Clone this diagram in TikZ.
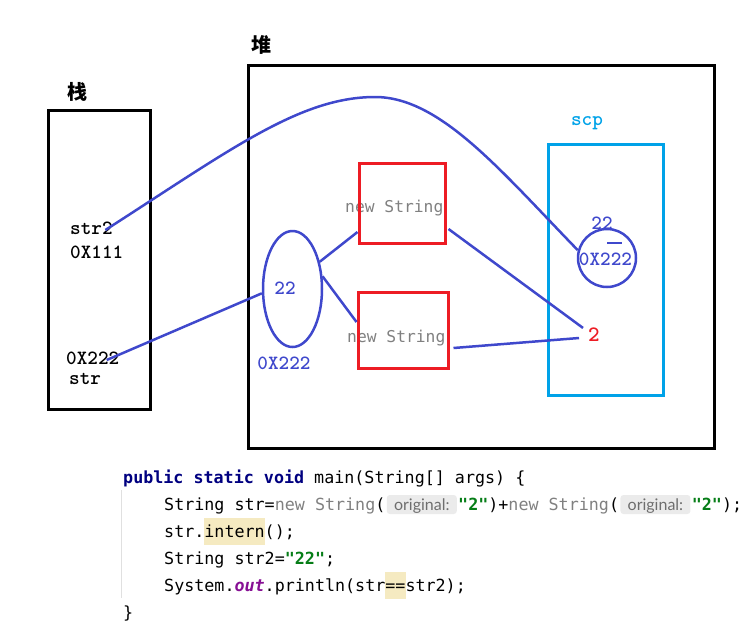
\documentclass[tikz,border=0pt]{standalone}
\usepackage{fontspec}
\setmonofont{DejaVu Sans Mono}
\newfontfamily\cjk{Noto Sans CJK SC}
\newfontfamily\addrfont{lmmonolt10-bold.otf}
\newfontfamily\hintfont{Lato}
\usetikzlibrary{shapes.geometric}
\definecolor{inkblue}{HTML}{3F48CC}
\definecolor{paintred}{HTML}{ED1C24}
\definecolor{scpcyan}{HTML}{00A2E8}
\definecolor{kwnavy}{HTML}{000080}
\definecolor{strgreen}{HTML}{067D17}
\definecolor{outpurple}{HTML}{871094}
\definecolor{dimgray}{HTML}{808080}
\definecolor{hintbg}{HTML}{EBEBEB}
\definecolor{hinttext}{HTML}{6E6E6E}
\definecolor{hlyellow}{HTML}{F5EAC1}
\setlength{\fboxsep}{0pt}
\newcommand{\hl}[1]{\colorbox{hlyellow}{\rule[-8pt]{0pt}{27pt}#1}}
\begin{document}
\begin{tikzpicture}[
    x=1pt, y=-1pt,
    memory/.style={draw, line width=3pt, inner sep=0pt},
    objbox/.style={draw=paintred, line width=3pt, inner sep=0pt},
    ref/.style={draw=inkblue, line width=2.5pt},
    title/.style={font=\cjk\bfseries\fontsize{20}{22}\selectfont, inner sep=0pt},
    addr/.style={font=\addrfont\fontsize{20.2}{22}\selectfont, inner sep=0pt},
    blueaddr/.style={addr, text=inkblue},
    newtxt/.style={font=\ttfamily\fontsize{16.3}{20}\selectfont, text=dimgray, inner sep=0pt, anchor=west},
    code/.style={font=\ttfamily\fontsize{16.7}{20}\selectfont, inner sep=0pt, anchor=base west},
    hint/.style={font=\hintfont\fontsize{16}{18}\selectfont, text=hinttext, fill=hintbg,
        rounded corners=3pt, minimum width=70pt, inner xsep=0pt, inner ysep=2pt,
        text height=13pt, text depth=2pt, anchor=base west}
]
\useasboundingbox (0,0) rectangle (745,641);

% stack and heap
\node[title] (stacklbl) at (77,92) {栈};
\node[title] (heaplbl) at (261,45) {堆};
\node[memory, minimum width=102pt, minimum height=299pt] (stack) at (99,259.5) {};
\node[memory, minimum width=466pt, minimum height=383pt] (heap) at (481,256.5) {};

\node[addr, anchor=west] (s2) at (70,228) {str2};
\node[addr, anchor=west] (s111) at (70,252) {0X111};
\node[addr, anchor=west] (s222) at (66,358) {0X222};
\node[addr, anchor=west] (s1) at (69,379) {str};

% objects in the heap
\node[newtxt] (newatxt) at (345,208) {new String};
\node[newtxt] (newbtxt) at (347,338) {new String};
\node[objbox, minimum width=86pt, minimum height=80pt] (newa) at (402,203) {};
\node[objbox, minimum width=90pt, minimum height=76pt] (newb) at (403,330) {};

\node[draw=inkblue, line width=2.5pt, ellipse, minimum width=59pt, minimum height=116pt, inner sep=0pt] (ell) at (292.5,289) {};
\node[blueaddr] (ellval) at (285,288) {22};
\node[blueaddr] (elladdr) at (284,363) {0X222};

% string constant pool
\node[draw=scpcyan, line width=3pt, minimum width=115pt, minimum height=251pt, inner sep=0pt] (scp) at (605.5,269.5) {};
\node[addr, text=scpcyan] (scplbl) at (587,123) {scp};
\node[draw=inkblue, line width=2.5pt, circle, minimum size=58pt, inner sep=0pt] (circ) at (607,258) {};
\node[blueaddr] (circval) at (602,223) {22};
\node[blueaddr] (circaddr) at (605.5,259) {0X222};
\draw[inkblue, line width=1.5pt] ([xshift=0pt,yshift=15pt]circ.center) -- ([xshift=15pt,yshift=15pt]circ.center);
\node[addr, text=paintred, font=\addrfont\fontsize{22}{24}\selectfont] (two) at (594,335) {2};

% references
\coordinate (peak) at (375,97);
\draw[ref] ([xshift=14pt,yshift=-2pt]s2.center) .. controls (230,150) and (300,97) .. (peak)
    .. controls (440,97) and (500,170) .. (circ.165);
\draw[ref] ([xshift=14pt,yshift=-2pt]s222.center) -- (ell.188);
\draw[ref] (ell.45) -- ([yshift=-29pt]newa.west);
\draw[ref] (ell.23) -- ([yshift=8pt]newb.west);
\draw[ref] ([xshift=2pt,yshift=-26pt]newa.east) -- ([xshift=-5pt]two.north west);
\draw[ref] ([xshift=4pt,yshift=-18pt]newb.east) -- ([xshift=-9pt,yshift=-3pt]two.west);

% code
\draw[black!12, line width=1pt] (121,490) -- (121,598);
\node[code] (line1) at (123,483) {{\color{kwnavy}\bfseries public static void} main(String[] args) \{};
\node[code] (line2a) at (164,510) {String str={\color{dimgray}new String}(};
\node[hint, xshift=1pt] (hinta) at (line2a.base east) {original:};
\node[code, xshift=1pt] (line2b) at (hinta.base east) {{\color{strgreen}\bfseries"2"})+{\color{dimgray}new String}(};
\node[hint, xshift=1pt] (hintb) at (line2b.base east) {original:};
\node[code, xshift=1pt] (line2c) at (hintb.base east) {{\color{strgreen}\bfseries"2"});};
\node[code] (line3) at (164,537) {str.\hl{intern}();};
\node[code] (line4) at (164,564) {String str2={\color{strgreen}\bfseries"22"};};
\node[code] (line5) at (164,591) {System.{\color{outpurple}\bfseries\itshape out}.println(str\hl{==}str2);};
\node[code] (line6) at (123,618) {\}};
\end{tikzpicture}
\end{document}
